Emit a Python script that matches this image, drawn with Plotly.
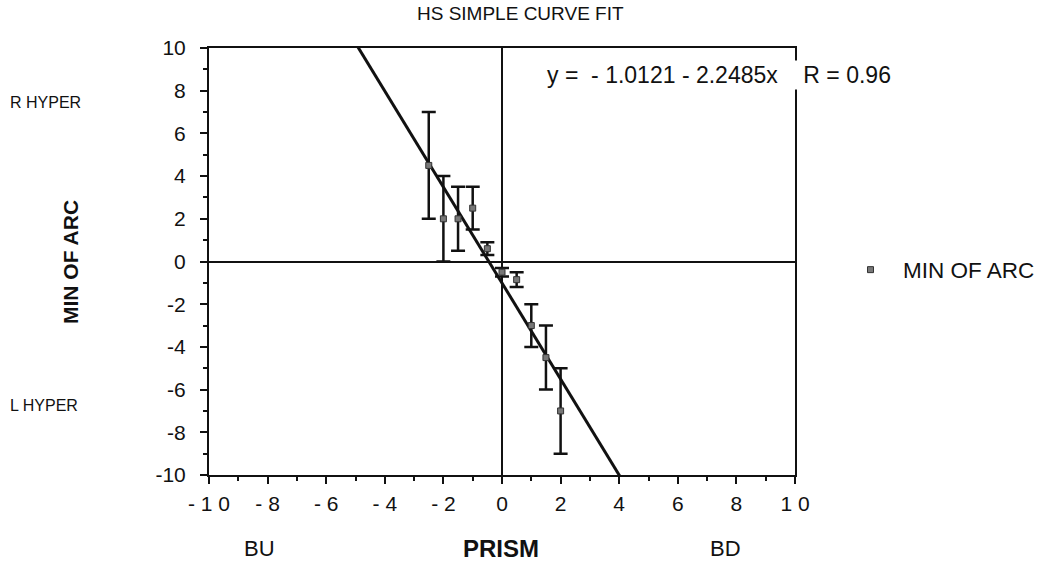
import plotly.graph_objects as go

prism = [-2.5, -2.0, -1.5, -1.0, -0.5, 0.0, 0.5, 1.0, 1.5, 2.0]
min_of_arc = [4.5, 2.0, 2.0, 2.5, 0.6, -0.5, -0.85, -3.0, -4.5, -7.0]
err = [2.5, 2.0, 1.5, 1.0, 0.3, 0.2, 0.35, 1.0, 1.5, 2.0]

intercept = -1.0121
slope = -2.2485
fit_x = [-10, 10]
fit_y = [intercept + slope * v for v in fit_x]

x_tickvals = [-10, -8, -6, -4, -2, 0, 2, 4, 6, 8, 10]
x_ticktext = ["- 1 0", "- 8", "- 6", "- 4", "- 2", "0", "2", "4", "6", "8", "1 0"]
y_tickvals = [-10, -8, -6, -4, -2, 0, 2, 4, 6, 8, 10]
y_ticktext = ["-10", "-8", "-6", "-4", "-2", "0", "2", "4", "6", "8", "10"]

FONT = "Liberation Sans, Arial, sans-serif"
L, R, T, B = 209, 254, 48, 88
W, H = 1049, 563
PW = W - L - R
PH = H - T - B


def px(x):
    return (x - L) / PW


def py(y):
    return 1 - (y - T) / PH


fig = go.Figure()
fig.add_trace(go.Scatter(
    x=fit_x, y=fit_y, mode="lines", line=dict(color="#111", width=3),
    showlegend=False, hoverinfo="skip"))
fig.add_trace(go.Scatter(
    x=prism, y=min_of_arc, mode="markers", name="MIN OF ARC",
    marker=dict(symbol="square", size=6, color="#777", line=dict(color="#333", width=1)),
    error_y=dict(type="data", array=err, color="#111", thickness=2.5, width=7)))

axis_common = dict(
    range=[-10, 10], showgrid=False, zeroline=True, zerolinecolor="#111", zerolinewidth=2,
    showline=True, linecolor="#111", linewidth=2, mirror=True,
    ticks="outside", ticklen=7, tickwidth=2, tickcolor="#111",
    minor=dict(dtick=1, ticks="outside", ticklen=4, tickwidth=2, tickcolor="#111"),
    tickfont=dict(size=21))

fig.update_layout(
    width=W, height=H,
    margin=dict(l=L, r=R, t=T, b=B, autoexpand=False),
    paper_bgcolor="white", plot_bgcolor="white",
    font=dict(family=FONT, size=16, color="#111"),
    showlegend=True,
    legend=dict(x=px(838), y=py(270), xanchor="left", yanchor="middle",
                itemwidth=55, font=dict(size=22.5), bgcolor="rgba(0,0,0,0)"),
    xaxis=dict(tickvals=x_tickvals, ticktext=x_ticktext, ticklabelstandoff=2, **axis_common),
    yaxis=dict(tickvals=y_tickvals, ticktext=y_ticktext, ticklabelstandoff=10, **axis_common),
)

NB = "\u00a0"
eq_text = f"y ={NB}{NB}- 1.0121 - 2.2485x{NB}{NB}{NB}{NB}R = 0.96"

labels = [
    dict(text="HS SIMPLE CURVE FIT", x=520, y=14, size=19, anchor="center"),
    dict(text=eq_text, x=545, y=75, size=23, anchor="left", bg="white"),
    dict(text="<b>MIN OF ARC</b>", x=70, y=262, size=21, angle=-90, anchor="center"),
    dict(text="R HYPER", x=45, y=102, size=16, anchor="center"),
    dict(text="L HYPER", x=44, y=405, size=16, anchor="center"),
    dict(text="BU", x=259, y=548, size=22, anchor="center"),
    dict(text="<b>PRISM</b>", x=501, y=548, size=24, anchor="center"),
    dict(text="BD", x=725, y=548, size=22, anchor="center"),
]
for lab in labels:
    fig.add_annotation(
        text=lab["text"], x=px(lab["x"]), y=py(lab["y"]), xref="paper", yref="paper",
        showarrow=False, xanchor=lab["anchor"], yanchor="middle",
        textangle=lab.get("angle", 0), font=dict(size=lab["size"]),
        bgcolor=lab.get("bg", "rgba(0,0,0,0)"))

fig.write_html("out.html")
